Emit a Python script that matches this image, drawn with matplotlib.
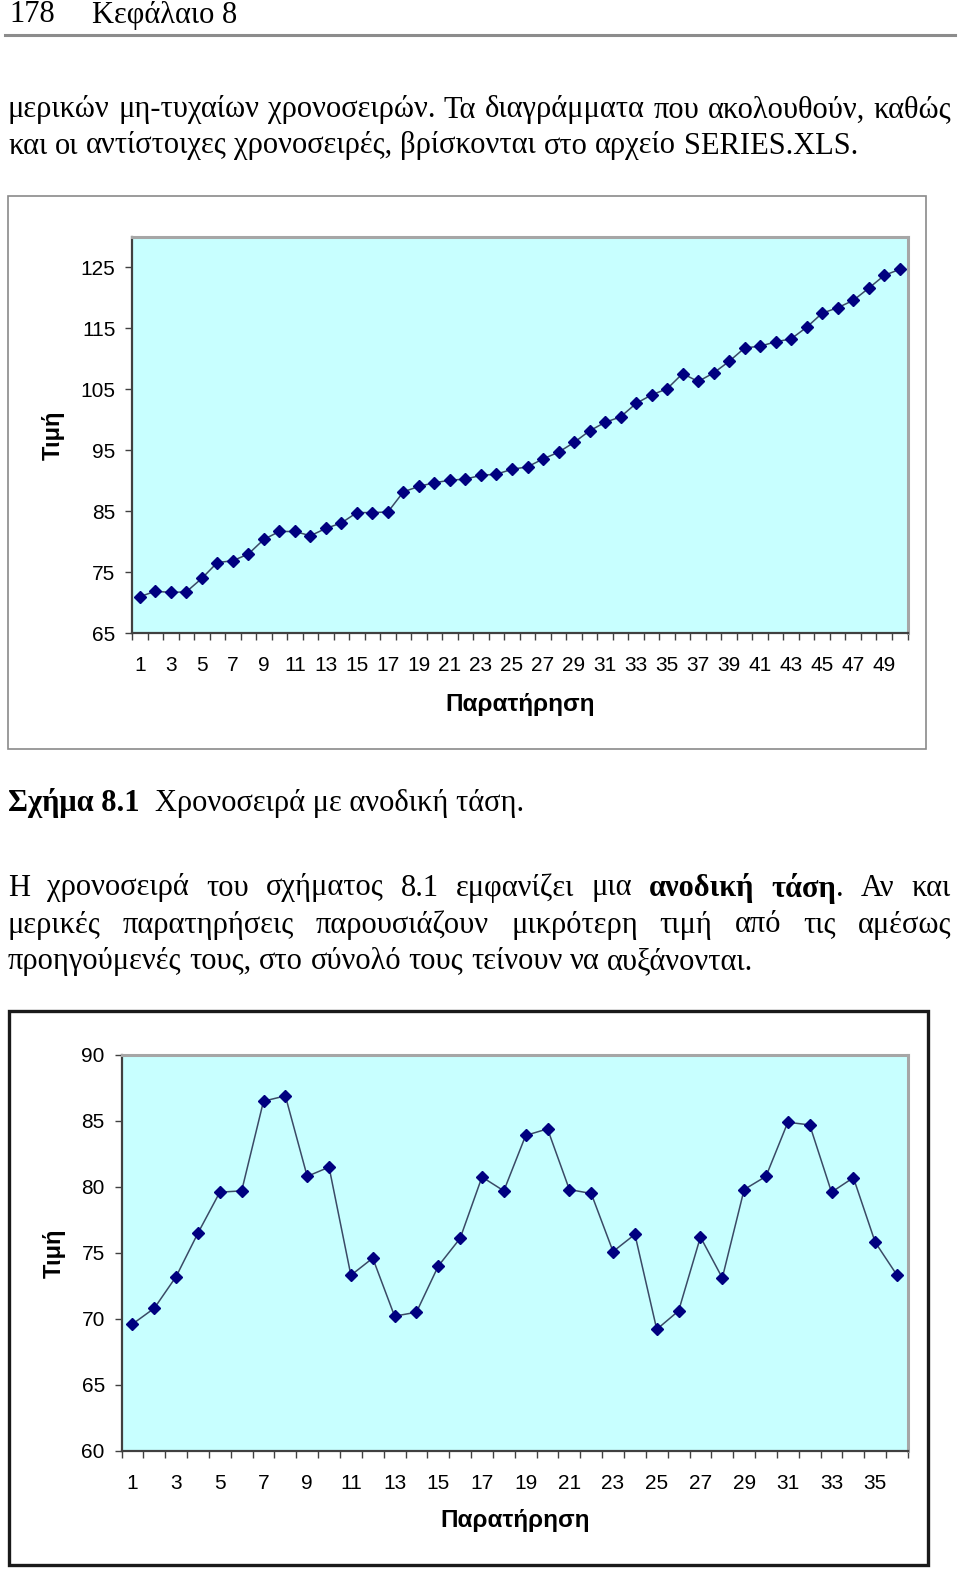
import numpy as np
import matplotlib
matplotlib.use('Agg')
import matplotlib.pyplot as plt
from matplotlib.patches import Rectangle
from matplotlib.lines import Line2D

# ανοδική χρονοσειρά (Σχήμα 8.1)
trend_vals = [71.0, 71.9, 71.7, 71.8, 74.0, 76.6, 76.9, 78.0, 80.4, 81.7,
              81.7, 81.0, 82.2, 83.1, 84.8, 84.8, 84.9, 88.2, 89.1, 89.7,
              90.1, 90.3, 90.9, 91.1, 91.9, 92.3, 93.6, 94.7, 96.3, 98.2,
              99.6, 100.5, 102.7, 104.1, 105.1, 107.6, 106.3, 107.7, 109.6, 111.8,
              112.1, 112.8, 113.3, 115.2, 117.5, 118.4, 119.6, 121.6, 123.7, 124.7]
trend_yticks = [65, 75, 85, 95, 105, 115, 125]

# κυκλική χρονοσειρά (δεύτερο διάγραμμα)
cycle_vals = [69.6, 70.8, 73.2, 76.5, 79.6, 79.7, 86.5, 86.9, 80.8, 81.5,
              73.3, 74.6, 70.2, 70.5, 74.0, 76.1, 80.75, 79.7, 83.9, 84.4,
              79.8, 79.5, 75.1, 76.4, 69.2, 70.6, 76.2, 73.1, 79.8, 80.8,
              84.9, 84.7, 79.6, 80.7, 75.8, 73.3]
cycle_yticks = [60, 65, 70, 75, 80, 85, 90]

xlabel = 'Παρατήρηση'
ylabel = 'Τιμή'

W, H = 960, 1573
fig = plt.figure(figsize=(W / 100, H / 100), dpi=100)
renderer = fig.canvas.get_renderer()

SERIF = 'Liberation Serif'
SANS = 'Liberation Sans'
BODY = 22


def fx(x):
    return x / W


def fy(y):
    return 1 - y / H


def word_width(pieces, size):
    w = 0
    for txt, wt in pieces:
        t = fig.text(0, 0, txt, fontsize=size, family=SERIF, weight=wt)
        w += t.get_window_extent(renderer).width
        t.remove()
    return w


def put_pieces(x, y, pieces, size):
    for txt, wt in pieces:
        t = fig.text(fx(x), fy(y), txt, fontsize=size, family=SERIF,
                     weight=wt, va='center', ha='left')
        x += t.get_window_extent(renderer).width
    return x


def line_of_text(y, x0, x1, words, size=BODY, justify=True):
    # words: list of lists of (text, weight)
    widths = [word_width(w, size) for w in words]
    if justify and len(words) > 1:
        gap = (x1 - x0 - sum(widths)) / (len(words) - 1)
    else:
        gap = word_width([(' ', 'normal')], size)
    x = x0
    for w, ww in zip(words, widths):
        put_pieces(x, y, w, size)
        x += ww + gap


def plain(s):
    return [[(w, 'normal')] for w in s.split()]


# κεφαλίδα σελίδας
fig.text(fx(9), fy(15), '178', fontsize=BODY, family=SERIF, va='center')
fig.text(fx(92), fy(15), 'Κεφάλαιο 8', fontsize=BODY, family=SERIF, va='center')
fig.add_artist(Line2D([fx(5), fx(955)], [fy(35), fy(35)], color='#8c8c8c', lw=2.2))

line_of_text(110, 8, 951, plain('μερικών μη-τυχαίων χρονοσειρών. Τα διαγράμματα που ακολουθούν, καθώς'))
line_of_text(146, 8, 858, plain('και οι αντίστοιχες χρονοσειρές, βρίσκονται στο αρχείο SERIES.XLS.'), justify=False)

# λεζάντα
put_pieces(8, 803, [('Σχήμα 8.1', 'bold')], BODY)
put_pieces(155, 803, [('Χρονοσειρά με ανοδική τάση.', 'normal')], BODY)

words = plain('Η χρονοσειρά του σχήματος 8.1 εμφανίζει μια')
words += [[('ανοδική', 'bold')], [('τάση', 'bold'), ('.', 'normal')]]
words += plain('Αν και')
line_of_text(888, 8, 951, words)
line_of_text(925, 8, 951, plain('μερικές παρατηρήσεις παρουσιάζουν μικρότερη τιμή από τις αμέσως'))
line_of_text(962, 8, 752, plain('προηγούμενές τους, στο σύνολό τους τείνουν να αυξάνονται.'), justify=False)

# πλαίσια διαγραμμάτων
fig.add_artist(Rectangle((fx(8), fy(749)), fx(918), (749 - 196) / H,
                         fill=False, edgecolor='#8a8a8a', lw=1.2))
fig.add_artist(Rectangle((fx(9), fy(1565)), fx(919), (1565 - 1011) / H,
                         fill=False, edgecolor='#1a1a1a', lw=2.4))


def series_chart(left, right, top, bottom, vals, yticks, ylim, label_gap,
                 ylab_x, xlab_y):
    ax = fig.add_axes([fx(left), fy(bottom), (right - left) / W, (bottom - top) / H])
    ax.set_facecolor('#c8ffff')
    n = len(vals)
    xs = np.arange(1, n + 1)
    ax.plot(xs, vals, color='#3a4a66', lw=1.1, marker='D', ms=5.8,
            mfc='#000080', mec='#000080', zorder=3)
    ax.set_xlim(0.5, n + 0.5)
    ax.set_ylim(*ylim)
    ax.set_yticks(yticks)
    ax.set_xticks(xs[::2])
    ax.set_xticks(np.arange(0.5, n + 1, 1), minor=True)
    ax.tick_params(axis='x', which='major', length=0, pad=label_gap,
                   labelsize=15)
    ax.tick_params(axis='x', which='minor', length=5, width=1, color='#404040',
                   direction='out')
    ax.tick_params(axis='y', length=5, width=1, color='#404040', pad=7,
                   labelsize=15)
    for lab in ax.get_xticklabels() + ax.get_yticklabels():
        lab.set_family(SANS)
    for side in ('top', 'right'):
        ax.spines[side].set_color('#a6a6a6')
        ax.spines[side].set_linewidth(2.2)
    for side in ('left', 'bottom'):
        ax.spines[side].set_color('#404040')
        ax.spines[side].set_linewidth(1.6)
    fig.text(fx(ylab_x), fy((top + bottom) / 2), ylabel, rotation=90,
             fontsize=17, family=SANS, weight='bold', ha='center', va='center')
    fig.text(fx((left + right) / 2), fy(xlab_y), xlabel, fontsize=17.5,
             family=SANS, weight='bold', ha='center', va='center')
    return ax


series_chart(132, 907.5, 237, 633.3, trend_vals, trend_yticks, (65, 130),
             16, 53, 705)
series_chart(121.5, 908, 1055, 1450.7, cycle_vals, cycle_yticks, (60, 90),
             17, 54, 1520)

fig.savefig('out.png', dpi=100, facecolor='white')
